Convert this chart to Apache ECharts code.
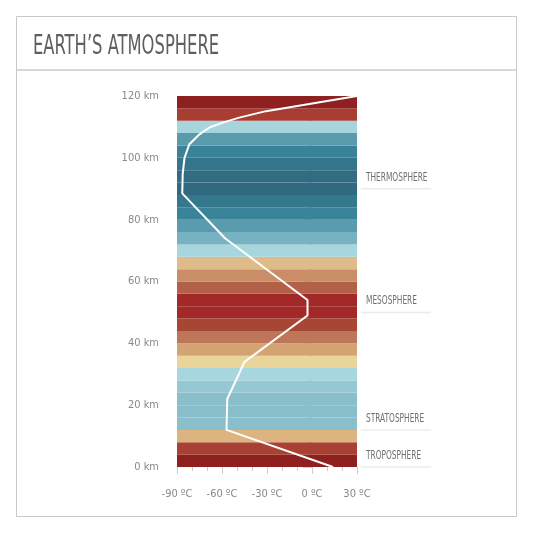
<!DOCTYPE html>
<html>
<head>
<meta charset="utf-8">
<script src="https://cdn.jsdelivr.net/npm/echarts@6/dist/echarts.min.js"></script>
<style>
html,body{margin:0;padding:0;background:#fff;}
#chart{width:533px;height:533px;}
</style>
</head>
<body>
<div id="chart"></div>
<script>
// ---- data ----
const titleText = 'EARTH\u2019S ATMOSPHERE';
const xTicks = [-90, -60, -30, 0, 30];
const yTicks = [0, 20, 40, 60, 80, 100, 120];
const bandBottomKm = [0,4,8,12,16,20,24,28,32,36,40,44,48,52,56,60,64,68,72,76,80,84,88,92,96,100,104,108,112,116];
const bandTopKm    = [4,8,12,16,20,24,28,32,36,40,44,48,52,56,60,64,68,72,76,80,84,88,92,96,100,104,108,112,116,120];
const bandColors = ['#8E2020','#A84034','#DDB480','#88BFCB','#88BFCB','#88BFCB','#96C8D4','#A8D6DE','#E9D49A','#D4A374',
                    '#BE7658','#A84634','#A32828','#A32828','#B36048','#C98E68','#DFBB8A','#A6D6DE','#76B2C2','#5A9CAE',
                    '#3A8499','#33788D','#316A80','#326C82','#33758B','#3A8297','#5A9BAB','#A6D5DD','#A83E32','#8E2020'];
const altKm  = [0,   12,    22,    34,  49, 54, 74,  88.5,  94.7,  100, 104.4, 107.6, 109.8, 111.4, 113,   115.1, 120];
const tempC  = [14, -57, -56.5,  -45,  -3, -3, -58, -86.5, -86.2,  -85, -81.8, -75,   -68.4, -59.5, -48.5, -30.7, 30];
const layerNames = ['THERMOSPHERE','MESOSPHERE','STRATOSPHERE','TROPOSPHERE'];
const layerBaseKm = [90, 50, 12, 0];

const FONT = '"Liberation Sans Narrow","DejaVu Sans Condensed","Liberation Sans",sans-serif';
const xMin = xTicks[0], xMax = xTicks[xTicks.length-1];
const yMin = yTicks[0], yMax = yTicks[yTicks.length-1];

const bandData = bandBottomKm.map((b,i)=>({value:[b, bandTopKm[i]], itemStyle:{color:bandColors[i]}}));
const lineData = altKm.map((a,i)=>[tempC[i], a]);
const layerData = layerNames.map((n,i)=>[layerBaseKm[i], n]);

const chart = echarts.init(document.getElementById('chart'), null, {renderer:'canvas'});
chart.setOption({
  animation:false,
  backgroundColor:'#fff',
  graphic:[
    {type:'rect', shape:{x:16.5,y:16.5,width:500,height:500}, style:{fill:'none',stroke:'#c8c8c8',lineWidth:1}, silent:true, z:-10},
    {type:'line', shape:{x1:17,y1:70,x2:516,y2:70}, style:{stroke:'#d8d8d8',lineWidth:2}, silent:true},
    {type:'text', x:33, y:47, scaleX:0.7, style:{text:titleText, fill:'#5f5f5f', font:'26px '+FONT, textVerticalAlign:'middle', verticalAlign:'middle'}}
  ],
  grid:{left:177, right:176, top:96, bottom:66, containLabel:false},
  xAxis:{
    type:'value', min:xMin, max:xMax, interval:30, offset:6,
    axisLine:{show:false},
    axisTick:{show:true, length:7, lineStyle:{color:'#ccc'}},
    minorTick:{show:true, splitNumber:3, length:4, lineStyle:{color:'#ccc'}},
    splitLine:{show:false},
    axisLabel:{formatter:v=>v+' \u00baC', color:'#888', fontSize:11, fontFamily:FONT, margin:16}
  },
  yAxis:{
    type:'value', min:yMin, max:yMax, interval:20, offset:5,
    axisLine:{show:false},
    axisTick:{show:true, length:9, lineStyle:{color:'#ccc'}},
    minorTick:{show:true, splitNumber:5, length:4, lineStyle:{color:'#ccc'}},
    splitLine:{show:false},
    axisLabel:{formatter:v=>v+' km', color:'#888', fontSize:11, fontFamily:FONT, margin:13}
  },
  series:[
    {
      type:'custom', name:'bands', data:bandData, z:1,
      encode:{y:[0,1]},
      renderItem:(params, api)=>{
        const p1 = api.coord([xMin, api.value(1)]);
        const p2 = api.coord([xMax, api.value(0)]);
        return {type:'rect', shape:{x:p1[0], y:p1[1], width:p2[0]-p1[0], height:p2[1]-p1[1]},
                style:{fill:api.visual('color')}};
      }
    },
    {
      type:'line', name:'temperature', data:lineData, z:5,
      showSymbol:false, symbol:'none', smooth:false,
      lineStyle:{color:'#fff', width:2}
    },
    {
      type:'custom', name:'layers', data:layerData, z:3, clip:false,
      encode:{y:0},
      renderItem:(params, api)=>{
        const p = api.coord([xMax, api.value(0)]);
        return {type:'group', children:[
          {type:'line', shape:{x1:p[0]+4, y1:p[1], x2:p[0]+74, y2:p[1]}, style:{stroke:'#ececec', lineWidth:1.5}},
          {type:'text', x:p[0]+9, y:p[1]-5, scaleX:0.66, style:{text:layerNames[params.dataIndex], fill:'#707070', font:'12.5px '+FONT, textVerticalAlign:'bottom', verticalAlign:'bottom'}}
        ]};
      }
    }
  ]
});
</script>
</body>
</html>
